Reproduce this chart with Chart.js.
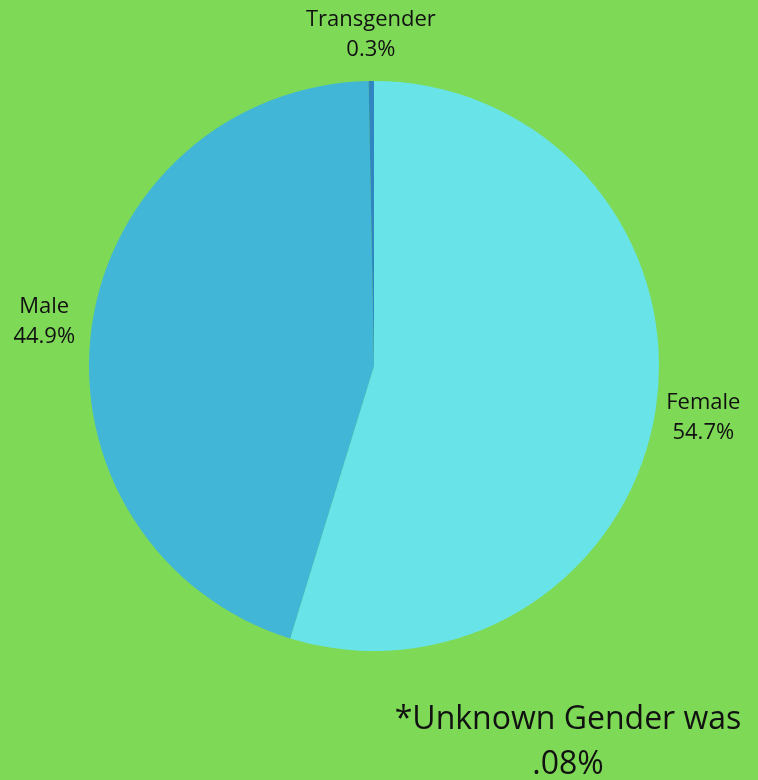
<!DOCTYPE html>
<html>
<head>
<meta charset="utf-8">
<script src="https://cdn.jsdelivr.net/npm/chart.js@4"></script>
<style>
    html, body { margin: 0; padding: 0; background: #7ED957; }
    #wrap { position: relative; width: 758px; height: 780px; background: #7ED957; overflow: hidden; }
    #note {
        position: absolute; left: 380px; width: 376px; top: 694px;
        text-align: center; font-family: "Open Sans", sans-serif; font-size: 32px;
        line-height: 45px; color: #111;
    }
</style>
</head>
<body>
<div id="wrap">
    <canvas id="chart-gender"></canvas>
    <div id="note">*Unknown Gender was<br>.08%</div>
</div>
<script>
var labels = ["Female", "Male", "Transgender"];
var values = [54.7, 44.9, 0.3];
var colors = ["#68E4E8", "#41B6D6", "#2F86C0"];

// Draw "Name / xx.x%" outside each slice, along its middle angle
var outsideLabels = {
    id: "outsideLabels",
    afterDatasetsDraw: function(chart) {
        var ctx = chart.ctx;
        var meta = chart.getDatasetMeta(0);
        ctx.save();
        ctx.fillStyle = "#111";
        ctx.textAlign = "center";
        ctx.textBaseline = "middle";
        ctx.font = "22px 'Open Sans', sans-serif";
        meta.data.forEach(function(arc, i) {
            var p = arc.getProps(["x", "y", "startAngle", "endAngle", "outerRadius"], true);
            var mid = (p.startAngle + p.endAngle) / 2;
            var r = p.outerRadius + 48;
            var x = p.x + Math.cos(mid) * r;
            var y = p.y + Math.sin(mid) * r;
            ctx.fillText(labels[i], x, y - 13);
            ctx.fillText(values[i].toFixed(1) + "%", x, y + 17);
        });
        ctx.restore();
    }
};

new Chart(document.getElementById("chart-gender"), {
    type: "pie",
    data: {
        labels: labels,
        datasets: [{
            data: values,
            backgroundColor: colors,
            borderWidth: 0
        }]
    },
    options: {
        responsive: true,
        maintainAspectRatio: false,
        animation: false,
        layout: { padding: { left: 89, right: 99, top: 81, bottom: 129 } },
        plugins: {
            legend: { display: false },
            tooltip: { enabled: false }
        }
    },
    plugins: [outsideLabels]
});
</script>
</body>
</html>
